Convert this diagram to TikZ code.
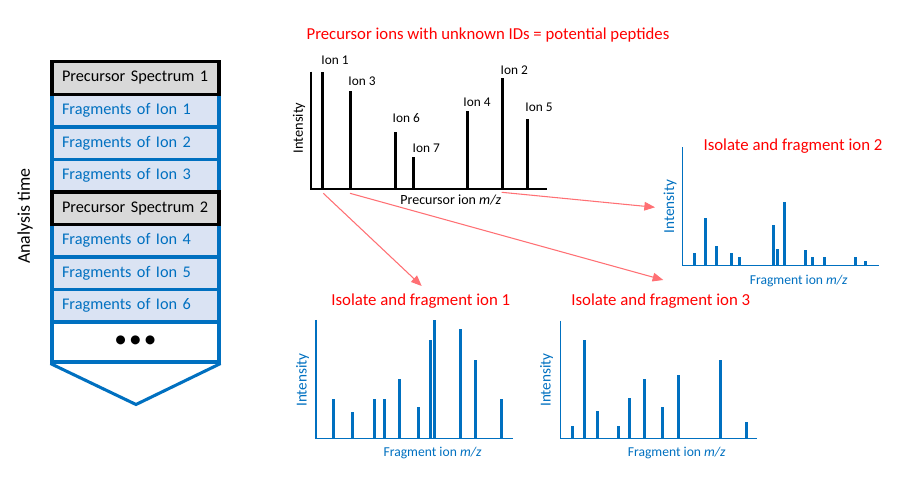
\documentclass[tikz,border=0pt]{standalone}
\usepackage{fontspec}
\setmainfont{Carlito}
\usetikzlibrary{arrows.meta}
\definecolor{mblue}{HTML}{0070C0}
\definecolor{lblue}{HTML}{DAE3F3}
\definecolor{lgrey}{HTML}{D9D9D9}
\definecolor{mred}{HTML}{FF0000}
\definecolor{arrcol}{HTML}{FF7074}
\tikzset{
  cellbase/.style={line width=2.3pt, minimum width=167*0.75pt, minimum height=32.5*0.75pt,
    text width=147*0.75pt, inner xsep=0pt, inner ysep=0pt, align=left,
    font=\fontsize{12.2}{14}\selectfont},
  fragcell/.style={cellbase, draw=mblue, fill=lblue, text=mblue},
  preccell/.style={cellbase, draw=black, fill=lgrey, text=black, line width=2.6pt},
  dotcell/.style={cellbase, draw=mblue, fill=white, minimum height=40*0.75pt, align=center, text width=167*0.75pt},
  ionlbl/.style={font=\fontsize{10}{12}\selectfont, inner sep=0pt},
  intlbl/.style={font=\fontsize{10.8}{12}\selectfont, inner sep=0pt, rotate=90},
  bintlbl/.style={font=\fontsize{11.4}{12}\selectfont, inner sep=0pt, rotate=90, text=mblue},
  axlbl/.style={font=\fontsize{10.5}{12}\selectfont, inner sep=0pt},
  baxlbl/.style={font=\fontsize{10.2}{12}\selectfont, inner sep=0pt, text=mblue},
  redtitle/.style={text=mred, inner sep=0pt},
  isotitle/.style={text=mred, inner sep=0pt, font=\fontsize{12.6}{14}\selectfont},
  blackbar/.style={line width=2.5pt},
  bluebar/.style={line width=2.2pt, mblue},
  blackaxis/.style={line width=1.2pt},
  blueaxis/.style={line width=1.1pt, mblue},
  redarrow/.style={arrcol, line width=0.8pt, -{Triangle[length=8pt,width=6.5pt]}}
}
\begin{document}
\begin{tikzpicture}[x=0.75pt,y=-0.75pt]
\useasboundingbox (0,0) rectangle (907,491);

% ---- analysis time stack ----
\node[fragcell] (f1) at (135.5,110.75) {Fragments of Ion 1};
\node[fragcell] (f2) at (135.5,143.25) {Fragments of Ion 2};
\node[fragcell] (f3) at (135.5,175.75) {Fragments of Ion 3};
\node[fragcell] (f4) at (135.5,240.75) {Fragments of Ion 4};
\node[fragcell] (f5) at (135.5,273.25) {Fragments of Ion 5};
\node[fragcell] (f6) at (135.5,305.75) {Fragments of Ion 6};
\node[dotcell] (dots) at (135.5,342) {{\fontsize{19}{19}\selectfont\textbullet\hspace{1.6pt}\textbullet\hspace{1.6pt}\textbullet}};
\node[preccell] (p1) at (135.5,78) {Precursor Spectrum 1};
\node[preccell] (p2) at (135.5,208.25) {Precursor Spectrum 2};
\coordinate (apex) at (136,404.5);
\draw[mblue, line width=2.3pt] (dots.south west) -- (apex) -- (dots.south east);
\node[font=\fontsize{13.4}{15}\selectfont, rotate=90, inner sep=0pt] (atime) at (25,216) {Analysis time};

% ---- title ----
\node[redtitle, font=\fontsize{12.55}{14}\selectfont] (title) at (488,35) {Precursor ions with unknown IDs = potential peptides};

% ---- precursor spectrum ----
\coordinate (py) at (311,71.7);
\coordinate (po) at (311,189.3);
\coordinate (px) at (547,189.3);
\draw[blackaxis] (py) -- (po) -- (px);
\foreach \x/\t in {322.7/71.7, 350.3/90.7, 395.3/131.7, 413.3/157.3, 467.7/110.7, 502.7/78.3, 527.7/118.7}
  \draw[blackbar] (\x,189.3) -- (\x,\t);
\node[ionlbl] (i1) at (335,60) {Ion 1};
\node[ionlbl] (i3) at (362,81) {Ion 3};
\node[ionlbl] (i6) at (406.3,118) {Ion 6};
\node[ionlbl] (i7) at (426.3,148) {Ion 7};
\node[ionlbl] (i4) at (477,102) {Ion 4};
\node[ionlbl] (i2) at (514.3,70) {Ion 2};
\node[ionlbl] (i5) at (539,107) {Ion 5};
\node[intlbl] (pint) at (299,128) {Intensity};
\node[axlbl] (pmz) at (450.8,200) {Precursor ion \textit{m/z}};

% ---- fragment spectrum ion 2 ----
\node[isotitle] (t2) at (793,146) {Isolate and fragment ion 2};
\draw[blueaxis] (682.3,147.3) -- (682.3,265.3) -- (879.3,265.3);
\foreach \x/\t in {694.3/253.3, 705.3/218.3, 716.3/245.7, 731.3/253.3, 739.3/257.3, 773.3/225.3, 777.3/249.3, 784.3/202.3, 805.3/250.3, 812.3/257.3, 824.3/257.3, 855.3/257.3, 865.3/261.3}
  \draw[bluebar] (\x,265.3) -- (\x,\t);
\node[bintlbl] (int2) at (670,206.7) {Intensity};
\node[baxlbl] (mz2) at (798.7,280.7) {Fragment ion \textit{m/z}};

% ---- fragment spectrum ion 1 ----
\node[isotitle] (t1) at (420.8,300.7) {Isolate and fragment ion 1};
\draw[blueaxis] (316,320) -- (316,438.3) -- (513.3,438.3);
\foreach \x/\t in {333.3/399.3, 352.3/411.7, 374.3/399.3, 384.3/399.3, 399.3/379.3, 418.7/407.3, 430.3/340.3, 434.3/320.3, 460.3/328.7, 475.3/360.3, 501.3/399.3}
  \draw[bluebar] (\x,438.3) -- (\x,\t);
\node[bintlbl] (int1) at (302.7,380) {Intensity};
\node[baxlbl] (mz1) at (432.5,453.3) {Fragment ion \textit{m/z}};

% ---- fragment spectrum ion 3 ----
\node[isotitle] (t3) at (660.8,300.7) {Isolate and fragment ion 3};
\draw[blueaxis] (560.3,320.7) -- (560.3,438.3) -- (757.3,438.3);
\foreach \x/\t in {572.3/426, 584.3/340.3, 597.3/411.3, 618.3/426, 629.3/398.3, 644.3/379.3, 662.3/407.3, 678.3/375.3, 720.3/360.3, 746.3/422.3}
  \draw[bluebar] (\x,438.3) -- (\x,\t);
\node[bintlbl] (int3) at (546.7,380) {Intensity};
\node[baxlbl] (mz3) at (676.7,453.3) {Fragment ion \textit{m/z}};

% ---- arrows ----
\coordinate (a1s) at (323.3,193.3);
\coordinate (a1e) at (421.7,286);
\coordinate (a3s) at (350,193.3);
\coordinate (a3e) at (663.3,280);
\coordinate (a2s) at (501.7,192.3);
\coordinate (a2e) at (655,207.3);
\draw[redarrow] (a1s) -- (a1e);
\draw[redarrow] (a3s) -- (a3e);
\draw[redarrow] (a2s) -- (a2e);
\end{tikzpicture}
\end{document}
